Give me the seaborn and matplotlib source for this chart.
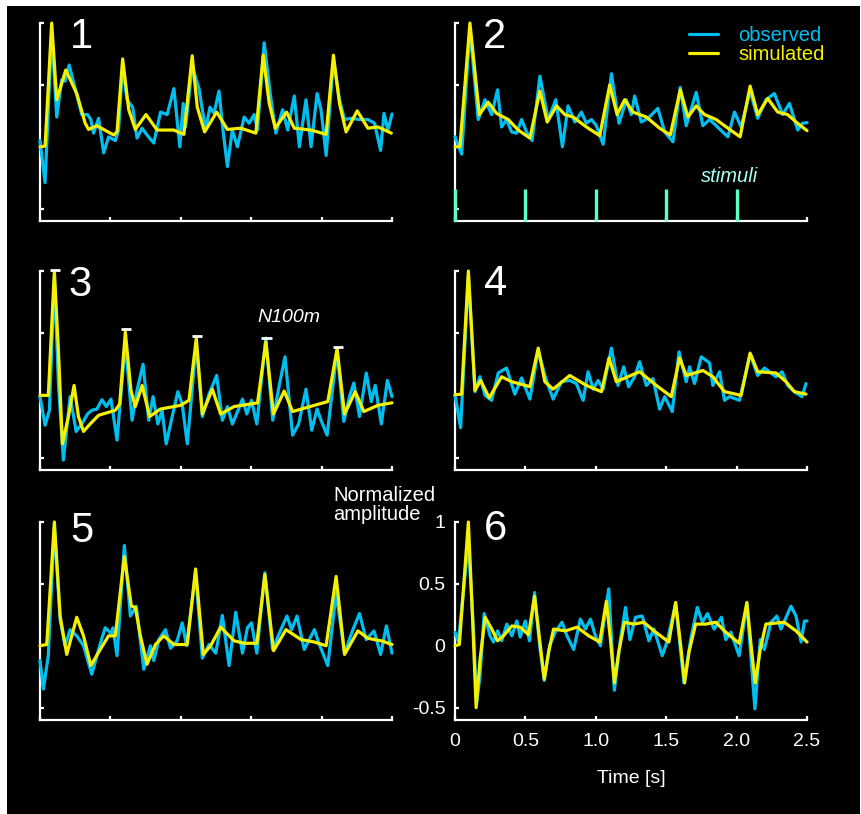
import matplotlib.pyplot as plt
import seaborn as sns
from matplotlib.lines import Line2D
from matplotlib.patches import Rectangle

# ---- data (time in s, normalized amplitude) ----
# panel 1
p1_obs_t = [0, 0.036, 0.083, 0.119, 0.154, 0.178, 0.207, 0.250, 0.297, 0.337, 0.361, 0.380, 0.416, 0.452,
            0.487, 0.535, 0.558, 0.587, 0.618, 0.658, 0.689, 0.725, 0.760, 0.808, 0.856, 0.903, 0.951, 0.993,
            1.017, 1.034, 1.081, 1.129, 1.176, 1.207, 1.236, 1.271, 1.302, 1.331, 1.366, 1.402, 1.450, 1.485,
            1.521, 1.545, 1.592, 1.635, 1.675, 1.723, 1.759, 1.806, 1.842, 1.889, 1.925, 1.968, 1.996, 2.032,
            2.084, 2.127, 2.163, 2.210, 2.269, 2.329, 2.376, 2.419, 2.443, 2.471, 2.5]
p1_obs_v = [0.05, -0.29, 0.92, 0.24, 0.54, 0.53, 0.66, 0.47, 0.26, 0.26, 0.22, 0.11, 0.23, -0.05,
            0.08, 0.05, 0.135, 0.65, 0.38, 0.32, 0.07, 0.15, 0.095, 0.03, 0.28, 0.26, 0.47, 0.0,
            0.35, 0.16, 0.65, 0.47, 0.135, 0.32, 0.27, 0.45, 0.11, -0.16, 0.135, 0.0, 0.24, 0.19,
            0.26, 0.135, 0.84, 0.43, 0.11, 0.30, 0.135, 0.41, 0.0, 0.38, 0.0, 0.43, 0.30, -0.07,
            0.70, 0.38, 0.22, 0.23, 0.22, 0.22, 0.19, -0.03, 0.27, 0.135, 0.265]
p1_sim_t = [0, 0.036, 0.083, 0.119, 0.183, 0.261, 0.321, 0.345, 0.404, 0.523, 0.547, 0.587, 0.630, 0.677,
            0.753, 0.832, 0.951, 1.022, 1.081, 1.117, 1.169, 1.255, 1.331, 1.426, 1.533, 1.585, 1.628,
            1.671, 1.751, 1.806, 1.925, 2.032, 2.084, 2.127, 2.174, 2.253, 2.329, 2.400, 2.495]
p1_sim_v = [0, 0.005, 1.0, 0.38, 0.62, 0.43, 0.19, 0.14, 0.17, 0.095, 0.12, 0.71, 0.30, 0.14,
            0.26, 0.135, 0.135, 0.10, 0.735, 0.32, 0.12, 0.28, 0.14, 0.15, 0.11, 0.74, 0.35,
            0.15, 0.28, 0.15, 0.135, 0.10, 0.74, 0.35, 0.12, 0.29, 0.15, 0.16, 0.11]

# panel 2
p2_obs_t = [0, 0.047, 0.106, 0.165, 0.213, 0.260, 0.302, 0.331, 0.366, 0.402, 0.437, 0.473, 0.508, 0.548,
            0.603, 0.662, 0.716, 0.763, 0.803, 0.851, 0.898, 0.933, 0.969, 1.004, 1.052, 1.111, 1.165,
            1.217, 1.252, 1.276, 1.323, 1.371, 1.441, 1.489, 1.548, 1.600, 1.642, 1.713, 1.760, 1.808,
            1.855, 1.938, 1.985, 2.032, 2.096, 2.150, 2.209, 2.268, 2.327, 2.375, 2.434, 2.469, 2.5]
p2_obs_v = [0.08, -0.06, 0.95, 0.22, 0.38, 0.26, 0.46, 0.16, 0.22, 0.12, 0.11, 0.22, 0.12, 0.05,
            0.57, 0.22, 0.38, 0.0, 0.33, 0.20, 0.28, 0.19, 0.22, 0.17, 0.02, 0.59, 0.19,
            0.38, 0.26, 0.41, 0.20, 0.23, 0.31, 0.12, 0.04, 0.48, 0.17, 0.44, 0.17, 0.22,
            0.17, 0.08, 0.28, 0.16, 0.45, 0.23, 0.38, 0.43, 0.26, 0.35, 0.135, 0.19, 0.195]
p2_sim_t = [0, 0.035, 0.106, 0.173, 0.236, 0.295, 0.378, 0.449, 0.532, 0.603, 0.655, 0.721, 0.780, 0.839,
            0.933, 1.028, 1.099, 1.151, 1.205, 1.264, 1.359, 1.453, 1.529, 1.600, 1.654, 1.713, 1.772,
            1.855, 1.938, 2.025, 2.096, 2.150, 2.221, 2.292, 2.363, 2.422, 2.5]
p2_sim_v = [0, 0, 1.0, 0.26, 0.36, 0.27, 0.22, 0.135, 0.07, 0.45, 0.20, 0.33, 0.26, 0.24,
            0.16, 0.09, 0.50, 0.26, 0.38, 0.28, 0.24, 0.15, 0.095, 0.46, 0.24, 0.33, 0.26,
            0.22, 0.15, 0.08, 0.49, 0.26, 0.39, 0.28, 0.26, 0.20, 0.13]

# panel 3
p3_obs_t = [0, 0.036, 0.067, 0.102, 0.131, 0.166, 0.214, 0.257, 0.297, 0.337, 0.368, 0.404, 0.440, 0.471,
            0.504, 0.547, 0.606, 0.654, 0.689, 0.732, 0.772, 0.803, 0.837, 0.867, 0.896, 0.939, 0.979,
            1.010, 1.046, 1.110, 1.153, 1.200, 1.255, 1.295, 1.331, 1.366, 1.407, 1.438, 1.469, 1.502,
            1.540, 1.604, 1.653, 1.701, 1.740, 1.794, 1.837, 1.889, 1.930, 1.968, 1.996, 2.039, 2.110,
            2.158, 2.198, 2.229, 2.269, 2.317, 2.353, 2.381, 2.424, 2.467, 2.5]
p3_obs_v = [-0.01, -0.24, -0.12, 0.95, 0.09, -0.52, -0.01, -0.29, -0.23, -0.15, -0.12, -0.11, -0.035, -0.09,
            -0.03, -0.36, 0.42, -0.20, 0.04, 0.25, -0.20, -0.01, -0.23, -0.12, -0.39, -0.17, 0.03,
            -0.07, -0.39, 0.42, -0.17, 0.01, 0.16, -0.20, -0.09, -0.23, -0.12, -0.03, -0.15, -0.04,
            -0.23, 0.46, -0.20, 0.09, 0.31, -0.32, -0.23, 0.05, -0.28, -0.11, -0.20, -0.32, 0.36,
            -0.21, -0.01, 0.10, -0.17, 0.18, -0.05, 0.08, -0.23, 0.12, -0.01]
p3_sim_t = [0, 0.059, 0.102, 0.131, 0.159, 0.202, 0.242, 0.273, 0.309, 0.356, 0.416, 0.535, 0.566, 0.606,
            0.646, 0.677, 0.725, 0.779, 0.855, 0.998, 1.058, 1.110, 1.153, 1.224, 1.283, 1.378, 1.545,
            1.604, 1.658, 1.734, 1.794, 1.949, 2.044, 2.110, 2.163, 2.239, 2.300, 2.400, 2.5]
p3_sim_v = [0, 0.0, 1.0, 0.36, -0.39, -0.17, 0.08, -0.17, -0.29, -0.23, -0.16, -0.12, -0.07, 0.51,
            0.04, -0.09, 0.08, -0.17, -0.11, -0.08, -0.04, 0.46, -0.15, 0.05, -0.15, -0.09, -0.06,
            0.43, -0.15, 0.035, -0.13, -0.08, -0.05, 0.375, -0.15, 0.03, -0.13, -0.08, -0.06]

# panel 4
p4_obs_t = [0, 0.040, 0.095, 0.142, 0.177, 0.213, 0.260, 0.307, 0.366, 0.425, 0.473, 0.532, 0.591, 0.645,
            0.697, 0.756, 0.815, 0.862, 0.910, 0.945, 0.981, 1.016, 1.052, 1.111, 1.158, 1.198, 1.233,
            1.276, 1.311, 1.359, 1.406, 1.453, 1.489, 1.543, 1.591, 1.642, 1.666, 1.701, 1.749, 1.808,
            1.831, 1.879, 1.914, 1.950, 2.020, 2.096, 2.150, 2.198, 2.233, 2.280, 2.323, 2.363, 2.410,
            2.464, 2.493]
p4_obs_v = [0, -0.26, 0.96, 0.03, 0.15, 0.0, -0.04, 0.18, 0.22, 0.01, 0.14, -0.03, 0.36, 0.135,
            -0.03, 0.11, 0.12, 0.095, -0.04, 0.19, 0.05, 0.12, 0.05, 0.38, 0.08, 0.23, 0.07,
            0.15, 0.27, 0.08, 0.135, -0.11, -0.01, -0.13, 0.35, 0.11, 0.23, 0.095, 0.31, 0.26,
            0.08, 0.19, -0.04, -0.01, -0.04, 0.33, 0.16, 0.22, 0.19, 0.15, 0.19, 0.08, 0.03,
            -0.01, 0.095]
p4_sim_t = [0, 0.047, 0.095, 0.142, 0.182, 0.243, 0.331, 0.402, 0.532, 0.591, 0.638, 0.697, 0.815, 0.933,
            1.040, 1.094, 1.146, 1.311, 1.430, 1.536, 1.595, 1.642, 1.761, 1.831, 1.914, 2.032, 2.096,
            2.150, 2.280, 2.351, 2.410, 2.493]
p4_sim_v = [0.005, 0.01, 1.0, 0.04, 0.12, -0.02, 0.15, 0.11, 0.07, 0.38, 0.11, 0.05, 0.16, 0.08,
            0.03, 0.30, 0.11, 0.19, 0.08, -0.01, 0.30, 0.16, 0.20, 0.15, 0.03, 0.0, 0.34,
            0.19, 0.18, 0.11, 0.03, 0.01]

# panel 5
p5_obs_t = [0, 0.024, 0.059, 0.102, 0.143, 0.178, 0.214, 0.261, 0.309, 0.368, 0.416, 0.463, 0.504, 0.518,
            0.547, 0.599, 0.642, 0.684, 0.737, 0.784, 0.808, 0.844, 0.891, 0.927, 0.974, 1.010, 1.041,
            1.105, 1.153, 1.200, 1.248, 1.295, 1.343, 1.390, 1.438, 1.473, 1.502, 1.540, 1.597, 1.652,
            1.699, 1.754, 1.787, 1.825, 1.877, 1.949, 1.984, 2.044, 2.103, 2.163, 2.222, 2.269, 2.317,
            2.372, 2.419, 2.460, 2.5]
p5_obs_v = [-0.12, -0.35, -0.08, 0.965, 0.21, 0.0, 0.13, 0.08, 0.0, -0.23, -0.03, 0.145, 0.10, 0.145,
            -0.08, 0.81, 0.24, 0.32, -0.19, 0.0, -0.12, 0.05, 0.13, -0.02, 0.04, 0.185, 0.0,
            0.59, -0.10, 0.01, -0.06, 0.245, -0.16, 0.27, -0.06, 0.145, 0.185, -0.06, 0.59, -0.03,
            0.10, 0.24, 0.13, 0.24, -0.03, 0.13, 0.01, -0.16, 0.43, -0.06, 0.13, 0.26, 0.05,
            0.12, -0.07, 0.16, -0.06]
p5_sim_t = [0, 0.048, 0.102, 0.143, 0.190, 0.261, 0.309, 0.361, 0.428, 0.487, 0.535, 0.599, 0.649, 0.677,
            0.713, 0.760, 0.820, 0.879, 0.951, 1.046, 1.105, 1.160, 1.212, 1.283, 1.378, 1.450, 1.540,
            1.597, 1.659, 1.747, 1.854, 1.949, 2.032, 2.103, 2.163, 2.258, 2.329, 2.424, 2.5]
p5_sim_v = [0, 0.01, 1.0, 0.24, -0.07, 0.23, 0.08, -0.16, -0.03, 0.08, 0.08, 0.72, 0.32, 0.31,
            0.08, -0.15, 0.01, 0.08, 0.01, 0.01, 0.62, -0.07, 0.0, 0.15, 0.04, 0.02, 0.02,
            0.575, -0.04, 0.13, 0.05, 0.03, 0.0, 0.56, -0.07, 0.12, 0.06, 0.04, 0.01]

# panel 6
p6_obs_t = [0, 0.024, 0.095, 0.131, 0.154, 0.178, 0.207, 0.249, 0.273, 0.302, 0.332, 0.368, 0.404, 0.439,
            0.463, 0.499, 0.529, 0.565, 0.601, 0.634, 0.672, 0.712, 0.760, 0.795, 0.843, 0.890, 0.926,
            0.962, 0.997, 1.033, 1.092, 1.132, 1.175, 1.211, 1.242, 1.282, 1.330, 1.377, 1.413, 1.472,
            1.508, 1.567, 1.626, 1.674, 1.721, 1.757, 1.793, 1.840, 1.892, 1.923, 1.959, 2.018, 2.073,
            2.130, 2.168, 2.197, 2.244, 2.286, 2.315, 2.386, 2.422, 2.458, 2.482, 2.5]
p6_obs_v = [0.11, 0.03, 0.84, 0.135, -0.46, -0.24, 0.26, 0.08, 0.03, 0.12, 0.04, 0.175, 0.08, 0.20,
            0.07, 0.20, 0.04, 0.43, 0.0, -0.28, 0.0, 0.11, 0.19, 0.08, -0.03, 0.215, 0.135,
            0.215, 0.08, 0.0, 0.46, -0.36, 0.05, 0.31, 0.05, 0.23, 0.24, 0.04, 0.135, -0.08,
            0.04, 0.34, -0.30, 0.05, 0.31, 0.19, 0.26, 0.135, 0.23, 0.05, 0.11, -0.08, 0.34,
            -0.51, 0.05, -0.03, 0.19, 0.24, 0.135, 0.32, 0.24, 0.03, 0.20, 0.20]
p6_sim_t = [0, 0.031, 0.095, 0.126, 0.150, 0.178, 0.214, 0.261, 0.302, 0.344, 0.404, 0.463, 0.522, 0.565,
            0.601, 0.634, 0.665, 0.700, 0.784, 0.867, 0.950, 1.028, 1.075, 1.104, 1.132, 1.163, 1.204,
            1.270, 1.341, 1.413, 1.519, 1.567, 1.603, 1.631, 1.662, 1.709, 1.781, 1.852, 1.923, 2.018,
            2.073, 2.106, 2.132, 2.168, 2.208, 2.339, 2.422, 2.5]
p6_sim_v = [0, 0.01, 1.0, 0.19, -0.50, -0.11, 0.23, 0.135, 0.04, 0.08, 0.16, 0.15, 0.09, 0.40,
            0.05, -0.27, -0.05, 0.135, 0.12, 0.15, 0.08, 0.03, 0.36, 0.05, -0.30, -0.05, 0.19,
            0.175, 0.19, 0.12, 0.03, 0.35, 0.0, -0.30, -0.05, 0.175, 0.175, 0.19, 0.11, 0.02,
            0.35, -0.03, -0.30, -0.03, 0.175, 0.19, 0.12, 0.03]

stim_times = [0, 0.5, 1.0, 1.5, 2.0]
n100_t = [0.107, 0.61, 1.115, 1.61, 2.115]
n100_v = [1.01, 0.53, 0.48, 0.46, 0.39]

x_ticks = [0, 0.5, 1.0, 1.5, 2.0, 2.5]
x_tick_labels = ['0', '0.5', '1.0', '1.5', '2.0', '2.5']
y_ticks = [-0.5, 0, 0.5, 1]
y_tick_labels = ['-0.5', '0', '0.5', '1']

panels = [
    ('1', p1_obs_t, p1_obs_v, p1_sim_t, p1_sim_v),
    ('2', p2_obs_t, p2_obs_v, p2_sim_t, p2_sim_v),
    ('3', p3_obs_t, p3_obs_v, p3_sim_t, p3_sim_v),
    ('4', p4_obs_t, p4_obs_v, p4_sim_t, p4_sim_v),
    ('5', p5_obs_t, p5_obs_v, p5_sim_t, p5_sim_v),
    ('6', p6_obs_t, p6_obs_v, p6_sim_t, p6_sim_v),
]

OBS = '#00bff0'
SIM = '#f5f000'
W, H = 862, 814

sns.set_style('ticks')
plt.rcParams['font.family'] = ['Liberation Sans', 'DejaVu Sans']

fig = plt.figure(figsize=(W / 100, H / 100), dpi=100)
fig.patch.set_facecolor('white')
# black backdrop behind all panels
fig.patches.append(Rectangle((7 / W, 0), 853 / W, 808 / H, transform=fig.transFigure,
                             facecolor='black', edgecolor='none', zorder=-10))


def px_axes(x0, ytop, w, ybot):
    return fig.add_axes([x0 / W, 1 - ybot / H, w / W, (ybot - ytop) / H])


lefts = [40, 455]
rows = [(23, 221), (271, 470), (522, 720)]
num_pos = [(70, 48), (483, 48), (68, 296), (484, 295), (70, 542), (484, 540)]

axes = []
for i, (num, ot, ov, st, sv) in enumerate(panels):
    r, c = divmod(i, 2)
    ax = px_axes(lefts[c], rows[r][0], 352, rows[r][1])
    ax.set_facecolor('none')
    sns.lineplot(x=ot, y=ov, ax=ax, color=OBS, linewidth=2.3, errorbar=None,
                 clip_on=False, solid_joinstyle='round', zorder=3)
    sns.lineplot(x=st, y=sv, ax=ax, color=SIM, linewidth=2.3, errorbar=None,
                 clip_on=False, solid_joinstyle='round', zorder=4)
    ax.set_xlim(0, 2.5)
    ax.set_ylim(-0.6, 1.0)
    for s in ['top', 'right']:
        ax.spines[s].set_visible(False)
    for s in ['left', 'bottom']:
        ax.spines[s].set_color('white')
        ax.spines[s].set_linewidth(1.6)
    ax.set_xticks(x_ticks)
    ax.set_yticks(y_ticks)
    ax.tick_params(direction='in', length=3, width=1.6, colors='white', labelsize=14)
    ax.yaxis.get_major_ticks()[1].tick1line.set_visible(False)
    if num == '6':
        ax.set_xticklabels(x_tick_labels)
        ax.set_yticklabels(y_tick_labels)
        ax.tick_params(axis='x', pad=9)
        ax.tick_params(axis='y', pad=7)
        ax.set_xlabel('Time [s]', color='white', fontsize=14, labelpad=15)
    else:
        ax.set_xticklabels([])
        ax.set_yticklabels([])
        ax.set_xlabel('')
    ax.set_ylabel('')
    fig.text(num_pos[i][0] / W, 1 - num_pos[i][1] / H, num, color='white',
             fontsize=30, ha='left', va='baseline')
    axes.append(ax)

# stimuli markers in panel 2
ax2 = axes[1]
ax2.vlines(stim_times, -0.6, -0.34, color='#5cffc4', linewidth=2.4, zorder=5, clip_on=False)
ax2.text(1.95, -0.24, 'stimuli', color='#a6fff0', fontsize=14.5, style='italic',
         ha='center', va='center')
handles = [Line2D([], [], color=OBS, lw=2.3), Line2D([], [], color=SIM, lw=2.3)]
leg = ax2.legend(handles, ['observed', 'simulated'], frameon=False, fontsize=14.5,
                 loc='upper left', bbox_to_anchor=(689 / W, 1 - 26 / H),
                 bbox_transform=fig.transFigure, borderpad=0, borderaxespad=0,
                 handlelength=1.45, handletextpad=1.0, labelspacing=0.0)
for txt, col in zip(leg.get_texts(), [OBS, SIM]):
    txt.set_color(col)

# N100m markers in panel 3
ax3 = axes[2]
ax3.hlines(n100_v, [t - 0.037 for t in n100_t], [t + 0.037 for t in n100_t],
           color='white', linewidth=2, zorder=5, clip_on=False)
ax3.text(1.77, 0.63, 'N100m', color='white', fontsize=14, style='italic',
         ha='center', va='center')

fig.text(333 / W, 1 - 505 / H, 'Normalized\namplitude', color='white', fontsize=14.5,
         ha='left', va='center', linespacing=1.0)

fig.savefig('out.png', dpi=100, facecolor=fig.get_facecolor())
